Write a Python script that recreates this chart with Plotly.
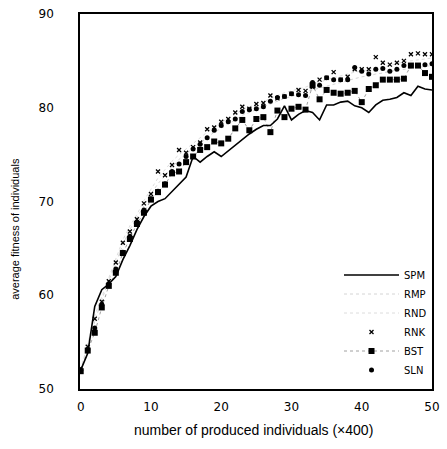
import plotly.graph_objects as go

x_vals = list(range(51))

spm = [52.0, 53.8, 58.8, 60.6, 61.2, 62.0, 63.8, 65.3, 67.0, 68.4,
       69.5, 70.0, 70.3, 71.1, 71.8, 72.6, 74.8, 74.2, 74.8, 75.3,
       74.8, 75.4, 76.1, 76.6, 77.2, 77.7, 78.1, 78.1, 78.8, 80.2,
       78.7, 79.3, 79.7, 79.5, 78.7, 80.3, 80.3, 80.6, 80.7, 80.2,
       80.0, 79.5, 80.3, 80.8, 80.9, 81.1, 81.6, 81.3, 82.3, 82.0, 81.9]

rmp = [52.0, 54.6, 57.2, 59.5, 61.6, 63.4, 65.4, 67.0, 68.3, 69.6,
       70.8, 71.9, 72.8, 73.7, 74.5, 75.1, 75.7, 76.3, 76.9, 77.4,
       77.8, 78.3, 78.7, 79.2, 79.5, 79.8, 80.1, 80.4, 80.7, 81.0,
       81.2, 81.5, 81.7, 81.9, 82.1, 82.3, 82.5, 82.7, 82.9, 83.1,
       83.3, 83.4, 83.6, 83.7, 83.9, 84.0, 84.1, 84.2, 84.3, 84.4, 84.5]

rnd = [52.1, 54.8, 57.8, 59.8, 61.9, 63.9, 65.9, 67.4, 68.6, 70.1,
       71.3, 72.5, 73.4, 74.3, 75.0, 75.6, 76.2, 76.9, 77.4, 78.0,
       78.4, 78.9, 79.3, 79.8, 80.1, 80.4, 80.6, 81.0, 81.3, 81.6,
       81.8, 82.0, 82.2, 82.5, 82.7, 83.0, 83.2, 83.4, 83.6, 83.8,
       83.9, 84.1, 84.3, 84.4, 84.5, 84.7, 84.9, 85.0, 85.1, 85.2, 85.3]

rnk = [52.2, 54.5, 57.5, 59.3, 61.5, 63.5, 65.6, 66.8, 68.1, 69.8,
       70.8, 73.2, 72.8, 73.9, 75.5, 75.2, 75.8, 76.3, 77.7, 77.9,
       78.5, 78.8, 79.5, 80.1, 79.9, 80.4, 80.5, 81.3, 81.0, 81.2,
       81.5, 81.9, 81.8, 82.2, 83.0, 83.2, 83.8, 83.0, 83.3, 84.1,
       84.1, 84.1, 85.4, 84.8, 84.6, 84.8, 85.0, 85.7, 85.8, 85.7, 85.7]

bst = [51.9, 54.1, 56.0, 58.7, 61.0, 62.4, 64.5, 66.0, 67.6, 68.8,
       70.2, 71.0, 71.8, 73.0, 73.2, 74.2, 74.8, 75.5, 75.8, 76.4,
       76.2, 76.7, 77.8, 78.7, 77.6, 78.8, 79.0, 77.4, 79.7, 79.0,
       79.9, 80.1, 79.8, 82.4, 80.9, 81.9, 81.6, 81.5, 81.6, 81.8,
       80.6, 82.0, 82.4, 83.0, 83.0, 83.0, 83.1, 84.5, 84.5, 83.7, 83.3]

sln = [52.0, 54.2, 56.5, 59.0, 61.2, 62.8, 64.6, 66.3, 67.8, 69.1,
       70.3, 71.1, 71.9, 73.2, 74.0, 74.8, 75.6, 76.1, 76.8, 77.6,
       78.1, 78.5, 78.8, 79.6, 79.8, 79.9, 80.1, 80.7, 81.1, 81.2,
       81.5, 81.4, 81.3, 82.7, 82.4, 83.2, 83.0, 83.0, 83.0, 84.3,
       83.9, 83.6, 84.1, 84.2, 83.9, 84.1, 84.5, 84.5, 84.5, 84.6, 84.7]

y_ticks = [50, 60, 70, 80, 90]
x_ticks = [0, 10, 20, 30, 40, 50]

fig = go.Figure()
fig.add_trace(go.Scatter(x=x_vals, y=rmp, name="RMP", mode="lines",
                         line=dict(color="#d4d4d4", width=1, dash="dot")))
fig.add_trace(go.Scatter(x=x_vals, y=rnd, name="RND", mode="lines",
                         line=dict(color="#dcdcdc", width=1, dash="dot")))
fig.add_trace(go.Scatter(x=x_vals, y=bst, name="BST", mode="lines+markers",
                         line=dict(color="#a0a0a0", width=1, dash="dot"),
                         marker=dict(symbol="square", size=6, color="black")))
fig.add_trace(go.Scatter(x=x_vals, y=sln, name="SLN", mode="markers",
                         marker=dict(symbol="circle", size=5, color="black")))
fig.add_trace(go.Scatter(x=x_vals, y=rnk, name="RNK", mode="markers",
                         marker=dict(symbol="x-thin", size=4, color="black",
                                     line=dict(width=1.3, color="black"))))
fig.add_trace(go.Scatter(x=x_vals, y=spm, name="SPM", mode="lines",
                         line=dict(color="black", width=1.6)))

# legend order
order = {"SPM": 1, "RMP": 2, "RND": 3, "RNK": 4, "BST": 5, "SLN": 6}
for tr in fig.data:
    tr.legendrank = order[tr.name]

fig.update_layout(
    width=447, height=449,
    margin=dict(l=80, r=7, t=11, b=60),
    paper_bgcolor="white", plot_bgcolor="white",
    font=dict(family="Liberation Sans", color="black"),
    showlegend=True,
    legend=dict(x=1.0, xanchor="right", y=0.012, yanchor="bottom",
                bgcolor="rgba(0,0,0,0)", borderwidth=0,
                font=dict(family="DejaVu Sans", size=10, color="black"),
                itemwidth=55, tracegroupgap=0),
    xaxis=dict(range=[-0.1, 50.0], tickvals=x_ticks, showgrid=False,
               zeroline=False, showline=True, linecolor="black", linewidth=1.5,
               mirror=True, ticks="", ticklabelstandoff=6,
               tickfont=dict(family="DejaVu Sans", size=12)),
    yaxis=dict(range=[50, 90], tickvals=y_ticks, showgrid=False,
               zeroline=False, showline=True, linecolor="black", linewidth=1.5,
               mirror=True, ticks="", ticklabelstandoff=22,
               tickfont=dict(family="DejaVu Sans", size=12)),
    annotations=[
        dict(text="average fitness of individuals", textangle=-90,
             xref="paper", yref="paper", x=-0.183, y=0.426,
             xanchor="center", yanchor="middle", showarrow=False,
             font=dict(family="Liberation Sans", size=11)),
        dict(text="number of produced individuals (×400)",
             xref="paper", yref="paper", x=0.494, y=-0.108,
             xanchor="center", yanchor="middle", showarrow=False,
             font=dict(family="Liberation Sans", size=14)),
    ],
)

fig.write_html("out.html")
